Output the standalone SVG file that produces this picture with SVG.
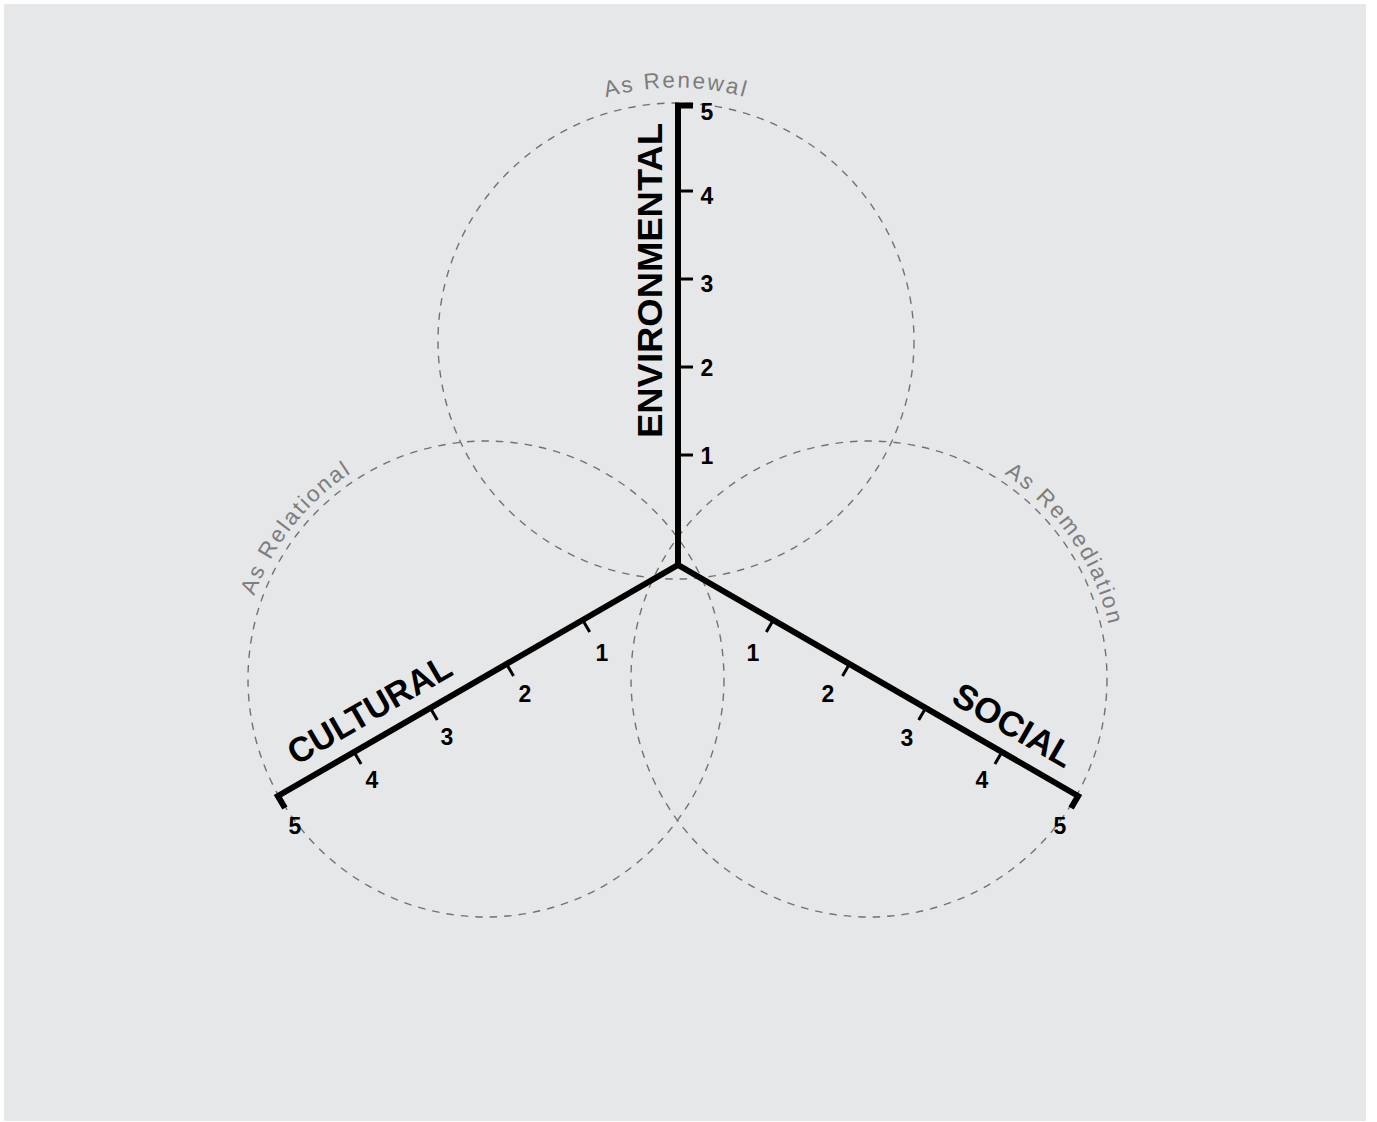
<svg xmlns="http://www.w3.org/2000/svg" width="1377" height="1122" viewBox="0 0 1377 1122">
<style>
.ring{fill:none;stroke:#727272;stroke-width:1.4;stroke-dasharray:7.5 7}
.axis{fill:none;stroke:#000;stroke-width:6;stroke-linejoin:miter;stroke-linecap:butt}
.tick{stroke:#000;stroke-width:3;fill:none}
.num{font-family:"Liberation Sans",Arial,sans-serif;font-weight:bold;font-size:23px;fill:#000;text-anchor:middle}
.lbl{font-family:"Liberation Sans",Arial,sans-serif;font-weight:bold;font-size:35px;fill:#000}
.arc{font-family:"Liberation Sans",Arial,sans-serif;font-size:22.5px;letter-spacing:2.2px;fill:#7d7d7d}
</style>
<defs>
<path id="pTop" d="M438.3,252.1 A254,254 0 0 1 913.7,252.1"/>
<path id="pLeft" d="M255.5,765.4 A246,246 0 0 1 518.1,435.1"/>
<path id="pRight" d="M851.9,433.6 A246,246 0 0 1 1091.5,783.0"/>
</defs>
<rect x="4" y="4" width="1362" height="1117" fill="#e6e7e9"/>
<g id="ring-renewal">
<circle class="ring" cx="676" cy="341" r="238"/>
<text class="arc" text-anchor="middle"><textPath href="#pTop" startOffset="50%">As Renewal</textPath></text>
</g>
<g id="ring-relational">
<circle class="ring" cx="486" cy="679" r="238"/>
<text class="arc" text-anchor="middle"><textPath href="#pLeft" startOffset="50%">As Relational</textPath></text>
</g>
<g id="ring-remediation">
<circle class="ring" cx="869" cy="679" r="238"/>
<text class="arc" text-anchor="middle"><textPath href="#pRight" startOffset="50%">As Remediation</textPath></text>
</g>
<g id="connectors">
<path class="axis" d="M678,566 V105.5 H693"/>
<path class="axis" d="M284.9,808.1 L277.9,796 L678,565 L1078.1,796 L1071.1,808.1"/>
</g>
<g id="axis-environmental">
<path class="tick" d="M678,455 H693 M678,367 H693 M678,279 H693 M678,191 H693"/>
<text class="num" x="707" y="119.5">5</text>
<text class="num" x="707" y="203.5">4</text>
<text class="num" x="707" y="291.5">3</text>
<text class="num" x="707" y="376">2</text>
<text class="num" x="707" y="464">1</text>
<text class="lbl" transform="translate(678 565) rotate(-90)" x="127" y="-16" textLength="315" lengthAdjust="spacingAndGlyphs">ENVIRONMENTAL</text>
</g>
<g id="axis-cultural">
<path class="tick" d="M582.7,620 L589.7,632.1 M506.5,664 L513.5,676.1 M430.3,708 L437.3,720.1 M354.1,752 L361.1,764.1"/>
<text class="num" x="602" y="661">1</text>
<text class="num" x="525" y="702">2</text>
<text class="num" x="447" y="745">3</text>
<text class="num" x="372" y="788">4</text>
<text class="num" x="295" y="834">5</text>
<text class="lbl" transform="translate(678 565) rotate(-30)" x="-431" y="-17" textLength="183" lengthAdjust="spacingAndGlyphs">CULTURAL</text>
</g>
<g id="axis-social">
<path class="tick" d="M773.3,620 L766.3,632.1 M849.5,664 L842.5,676.1 M925.7,708 L918.7,720.1 M1001.9,752 L994.9,764.1"/>
<text class="num" x="753" y="661">1</text>
<text class="num" x="828" y="702">2</text>
<text class="num" x="907" y="746">3</text>
<text class="num" x="982" y="788">4</text>
<text class="num" x="1060" y="834">5</text>
<text class="lbl" transform="translate(678 565) rotate(30)" x="304" y="-17" textLength="133" lengthAdjust="spacingAndGlyphs">SOCIAL</text>
</g>
</svg>
